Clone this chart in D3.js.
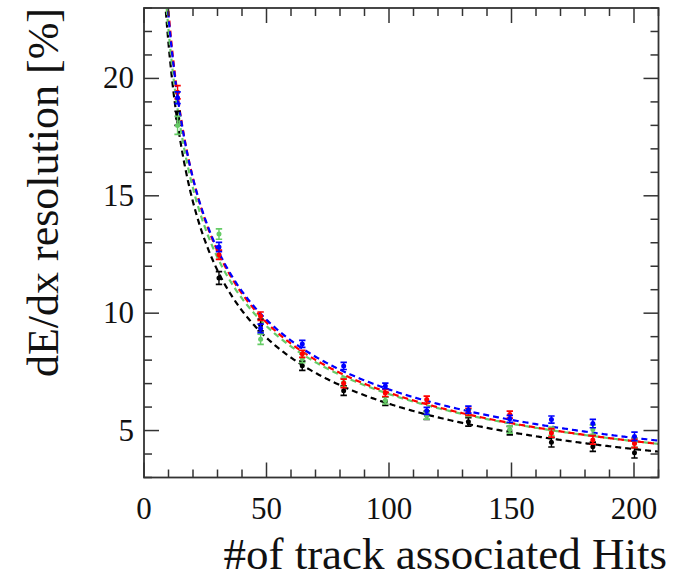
<!DOCTYPE html>
<html>
<head>
<meta charset="utf-8">
<script src="https://cdn.jsdelivr.net/npm/d3@7"></script>
<style>
  html, body { margin: 0; padding: 0; background: #fff; }
  svg { display: block; }
  text { font-family: "Liberation Serif", "Times New Roman", serif; fill: #111; }
</style>
</head>
<body>
<svg id="chart" width="675" height="581"></svg>
<script>
// Mean number of hits per bin
const hits = [13.7, 30.6, 47.6, 64.6, 81.5, 98.5, 115.4, 132.4, 149.3, 166.3, 183.2, 200.2];

// dE/dx resolution [%] for each sample
const blueRes  = [19.18, 12.82, 9.35, 8.69, 7.75, 6.90, 5.84, 5.89, 5.50, 5.47, 5.30, 4.75];
const redRes   = [19.41, 12.49, 9.87, 8.27, 7.01, 6.60, 6.32, 5.80, 5.68, 4.90, 4.60, 4.45];
const greenRes = [18.00, 13.37, 8.89, 8.07, 7.05, 6.28, 5.64, 5.75, 5.04, 4.97, 5.04, 4.48];
const blackRes = [18.30, 11.50, 9.50, 7.76, 6.70, 6.25, 5.65, 5.37, 5.00, 4.50, 4.31, 4.05];

// Statistical uncertainties
const blueErr  = [0.25, 0.20, 0.18, 0.15, 0.15, 0.12, 0.15, 0.15, 0.15, 0.15, 0.18, 0.18];
const redErr   = [0.28, 0.20, 0.18, 0.15, 0.18, 0.15, 0.15, 0.15, 0.15, 0.18, 0.18, 0.18];
const greenErr = [0.38, 0.22, 0.22, 0.18, 0.18, 0.15, 0.15, 0.15, 0.15, 0.18, 0.20, 0.20];
const blackErr = [0.30, 0.27, 0.25, 0.20, 0.20, 0.18, 0.18, 0.18, 0.18, 0.20, 0.20, 0.22];

// Power-law fit  sigma = A * N^(-B), one per sample
const seriesNames = ["black", "green", "red", "blue"];
const seriesColors = ["#000000", "#66cc66", "#ff0000", "#0000ff"];
const fitA = [75.2, 74.4, 79.1, 76.1];
const fitB = [0.544, 0.5275, 0.539, 0.526];

const xTicks = [0, 50, 100, 150, 200];
const yTicks = [5, 10, 15, 20];

const values = { black: blackRes, green: greenRes, red: redRes, blue: blueRes };
const errors = { black: blackErr, green: greenErr, red: redErr, blue: blueErr };

const svg = d3.select("#chart");
const W = 675, H = 581;
const padL = 144, padR = 658.5, padT = 8, padB = 477.5;

svg.append("rect").attr("width", W).attr("height", H).attr("fill", "#fff");

const x = d3.scaleLinear().domain([0, 210]).range([padL, padR]);
const y = d3.scaleLinear().domain([3, 23]).range([padB, padT]);

svg.append("defs").append("clipPath").attr("id", "plotclip")
  .append("rect").attr("x", padL).attr("y", padT)
  .attr("width", padR - padL).attr("height", padB - padT);

// Fit curves
const plot = svg.append("g").attr("clip-path", "url(#plotclip)");
const line = d3.line().x(d => x(d[0])).y(d => y(d[1]));
const xs = d3.range(6, 210.5, 0.5);
seriesNames.forEach((name, i) => {
  const pts = xs.map(n => [n, fitA[i] * Math.pow(n, -fitB[i])]);
  plot.append("path")
    .datum(pts)
    .attr("d", line)
    .attr("fill", "none")
    .attr("stroke", seriesColors[i])
    .attr("stroke-width", 2.2)
    .attr("stroke-dasharray", "6,4");
});

// Data points with error bars
seriesNames.forEach((name, i) => {
  const g = plot.append("g").attr("stroke", seriesColors[i]).attr("fill", seriesColors[i]);
  const data = hits.map((h, k) => ({ h, v: values[name][k], e: errors[name][k] }));
  const pt = g.selectAll("g.pt").data(data).join("g").attr("class", "pt");
  pt.append("line")
    .attr("x1", d => x(d.h)).attr("x2", d => x(d.h))
    .attr("y1", d => y(d.v - d.e)).attr("y2", d => y(d.v + d.e))
    .attr("stroke-width", 1.4);
  pt.append("line")
    .attr("x1", d => x(d.h) - 3.2).attr("x2", d => x(d.h) + 3.2)
    .attr("y1", d => y(d.v + d.e)).attr("y2", d => y(d.v + d.e))
    .attr("stroke-width", 1.7);
  pt.append("line")
    .attr("x1", d => x(d.h) - 3.2).attr("x2", d => x(d.h) + 3.2)
    .attr("y1", d => y(d.v - d.e)).attr("y2", d => y(d.v - d.e))
    .attr("stroke-width", 1.7);
  pt.append("circle")
    .attr("cx", d => x(d.h)).attr("cy", d => y(d.v))
    .attr("r", 2.5).attr("stroke", "none");
});

// Frame and ticks (inward on all four sides)
const axisColor = "#333";
const major = 15, minor = 8;
const frame = svg.append("g").attr("stroke", axisColor).attr("fill", "none");

const xMinor = d3.range(0, 211, 10);
xMinor.forEach(v => {
  const len = v % 50 === 0 ? major : minor;
  frame.append("line").attr("x1", x(v)).attr("x2", x(v))
    .attr("y1", padB).attr("y2", padB - len).attr("stroke-width", 1.5);
  frame.append("line").attr("x1", x(v)).attr("x2", x(v))
    .attr("y1", padT).attr("y2", padT + len).attr("stroke-width", 1.5);
});
const yMinor = d3.range(3, 23.5, 1);
yMinor.forEach(v => {
  const len = v % 5 === 0 ? major : minor;
  frame.append("line").attr("y1", y(v)).attr("y2", y(v))
    .attr("x1", padL).attr("x2", padL + len).attr("stroke-width", 1.5);
  frame.append("line").attr("y1", y(v)).attr("y2", y(v))
    .attr("x1", padR).attr("x2", padR - len).attr("stroke-width", 1.5);
});
frame.append("rect").attr("x", padL).attr("y", padT)
  .attr("width", padR - padL).attr("height", padB - padT)
  .attr("stroke-width", 1.8);

// Tick labels
svg.append("g").selectAll("text").data(xTicks).join("text")
  .attr("x", d => x(d)).attr("y", 519)
  .attr("text-anchor", "middle")
  .style("font-size", "31px")
  .text(d => d);

svg.append("g").selectAll("text").data(yTicks).join("text")
  .attr("x", 134).attr("y", d => y(d) + 10)
  .attr("text-anchor", "end")
  .style("font-size", "31px")
  .text(d => d);

// Axis titles
svg.append("text")
  .attr("x", 667).attr("y", 569)
  .attr("text-anchor", "end")
  .style("font-size", "45px")
  .text("#of track associated Hits");

svg.append("text")
  .attr("transform", "translate(58,8) rotate(-90)")
  .attr("text-anchor", "end")
  .style("font-size", "44px")
  .text("dE/dx resolution [%]");
</script>
</body>
</html>
